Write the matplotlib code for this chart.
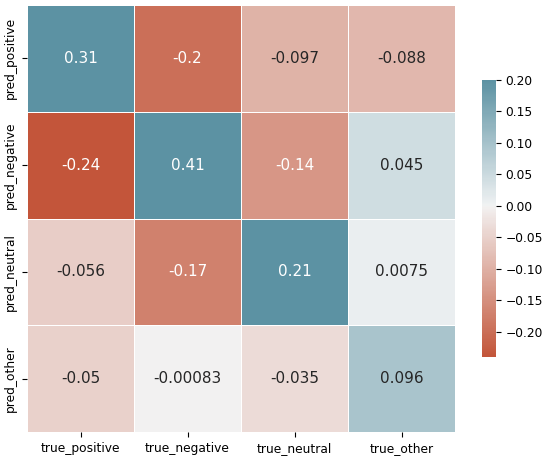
import numpy as np
import matplotlib
matplotlib.use("Agg")
import matplotlib.pyplot as plt
import seaborn as sns

rows = ["pred_positive", "pred_negative", "pred_neutral", "pred_other"]
cols = ["true_positive", "true_negative", "true_neutral", "true_other"]
vals = [[0.31, -0.2, -0.097, -0.088],
        [-0.24, 0.41, -0.14, 0.045],
        [-0.056, -0.17, 0.21, 0.0075],
        [-0.05, -0.00083, -0.035, 0.096]]

fig = plt.figure(figsize=(5.44, 4.57), dpi=100)
ax = fig.add_axes([27/544, 25/457, 428/544, 427/457])
cax = fig.add_axes([482/544, 100/457, 14/544, 277/457])

cmap = sns.diverging_palette(20, 220, as_cmap=True)
sns.heatmap(np.array(vals), cmap=cmap, vmax=0.2, center=0, annot=True,
            annot_kws={"size": 11}, linewidths=0.6, linecolor="white",
            xticklabels=cols, yticklabels=rows, ax=ax, cbar_ax=cax)
ax.set_yticklabels(rows, rotation=90, va="center")
ax.tick_params(labelsize=8.8)
cax.tick_params(labelsize=8.8, length=3.5)

fig.savefig("out.png", dpi=100)
